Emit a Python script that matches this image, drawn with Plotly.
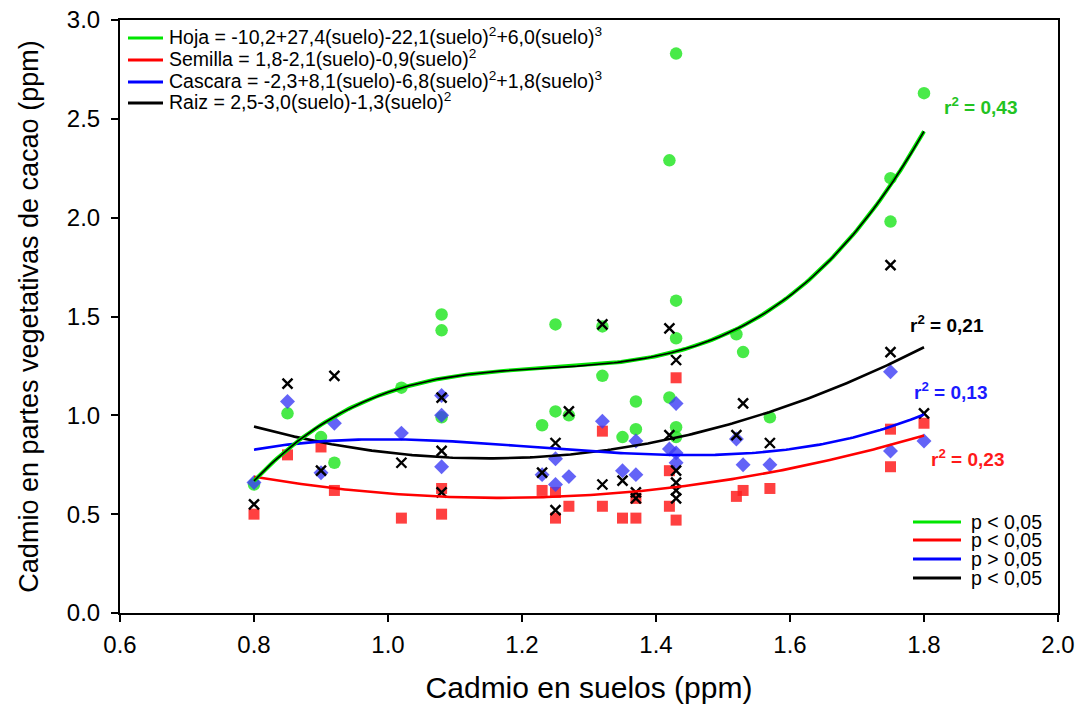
import numpy as np
import plotly.graph_objects as go

# Cadmium in soil (ppm) vs cadmium in cacao plant parts (ppm)
hoja_x = [0.80, 0.85, 0.90, 0.92, 1.02, 1.08, 1.08, 1.08, 1.23, 1.25, 1.25, 1.27, 1.32, 1.32, 1.35,
          1.37, 1.37, 1.42, 1.42, 1.43, 1.43, 1.43, 1.43, 1.43, 1.52, 1.53, 1.57, 1.75, 1.75, 1.80]
hoja_y = [0.65, 1.01, 0.89, 0.76, 1.14, 1.51, 1.43, 0.99, 0.95, 1.46, 1.02, 1.00, 1.45, 1.20, 0.89,
          1.07, 0.93, 2.29, 1.09, 2.83, 1.58, 1.39, 0.94, 0.89, 1.41, 1.32, 0.99, 2.20, 1.98, 2.63]

semilla_x = [0.80, 0.85, 0.90, 0.92, 1.02, 1.08, 1.08, 1.23, 1.25, 1.25, 1.27, 1.32, 1.32, 1.35,
             1.37, 1.37, 1.42, 1.42, 1.43, 1.43, 1.52, 1.53, 1.57, 1.75, 1.75, 1.80]
semilla_y = [0.50, 0.80, 0.84, 0.62, 0.48, 0.63, 0.50, 0.62, 0.61, 0.48, 0.54, 0.92, 0.54, 0.48,
             0.58, 0.48, 0.72, 0.54, 1.19, 0.47, 0.59, 0.62, 0.63, 0.93, 0.74, 0.96]

cascara_x = [0.80, 0.85, 0.90, 0.92, 1.02, 1.08, 1.08, 1.08, 1.23, 1.25, 1.25, 1.27, 1.32, 1.35,
             1.37, 1.37, 1.42, 1.43, 1.43, 1.43, 1.52, 1.53, 1.57, 1.75, 1.75, 1.80]
cascara_y = [0.66, 1.07, 0.71, 0.96, 0.91, 1.10, 1.00, 0.74, 0.70, 0.78, 0.65, 0.69, 0.97, 0.72,
             0.87, 0.70, 0.83, 1.06, 0.81, 0.76, 0.88, 0.75, 0.75, 1.22, 0.82, 0.87]

raiz_x = [0.80, 0.85, 0.90, 0.92, 1.02, 1.08, 1.08, 1.08, 1.23, 1.25, 1.25, 1.27, 1.32, 1.32, 1.35,
          1.37, 1.37, 1.42, 1.42, 1.43, 1.43, 1.43, 1.43, 1.43, 1.52, 1.53, 1.57, 1.75, 1.75, 1.80]
raiz_y = [0.55, 1.16, 0.72, 1.20, 0.76, 1.09, 0.82, 0.61, 0.71, 0.86, 0.52, 1.02, 1.46, 0.65, 0.67,
          0.61, 0.58, 1.44, 0.90, 1.28, 0.72, 0.66, 0.62, 0.58, 0.90, 1.06, 0.86, 1.76, 1.32, 1.01]

# Regression equations, r² and significance as reported
eq_labels = [
    "Hoja = -10,2+27,4(suelo)-22,1(suelo)<sup>2</sup>+6,0(suelo)<sup>3</sup>",
    "Semilla = 1,8-2,1(suelo)-0,9(suelo)<sup>2</sup>",
    "Cascara = -2,3+8,1(suelo)-6,8(suelo)<sup>2</sup>+1,8(suelo)<sup>3</sup>",
    "Raiz = 2,5-3,0(suelo)-1,3(suelo)<sup>2</sup>",
]
r2_labels = ["0,43", "0,23", "0,13", "0,21"]
p_labels = ["p < 0,05", "p < 0,05", "p > 0,05", "p < 0,05"]
fit_degree = [3, 2, 3, 2]

FONT = "Liberation Sans, Arial, sans-serif"
line_colors = ["#00e600", "#ff0000", "#0000ff", "#000000"]
marker_colors = ["rgba(40,230,40,0.85)", "rgba(255,30,30,0.85)", "rgba(60,60,245,0.8)", "#000000"]
r2_colors = ["#22c322", "#ff1a1a", "#1a1aff", "#000000"]

series_x = [hoja_x, semilla_x, cascara_x, raiz_x]
series_y = [hoja_y, semilla_y, cascara_y, raiz_y]

# plot-area geometry (pixels) used to place keys and labels in paper space
PL, PR, PT, PB = 120, 1058, 20, 613


def px2paper(px, py):
    return (px - PL) / (PR - PL), (PB - py) / (PB - PT)


fig = go.Figure()

# scatter points (drawn under the fitted curves)
symbols = ["circle", "square", "diamond", "x-thin"]
sizes = [12.5, 11, 11.5, 10]
for i in range(4):
    mk = dict(symbol=symbols[i], size=sizes[i], color=marker_colors[i], line=dict(width=0))
    if symbols[i] == "x-thin":
        mk["line"] = dict(width=2.4, color="#000000")
    fig.add_trace(go.Scatter(x=series_x[i], y=series_y[i], mode="markers", marker=mk,
                             showlegend=False, hoverinfo="x+y"))

# polynomial regression curves over the observed soil range
for i in [3, 2, 1, 0]:
    coef = np.polyfit(series_x[i], series_y[i], fit_degree[i])
    xs = np.linspace(min(series_x[i]), max(series_x[i]), 200)
    ys = np.polyval(coef, xs)
    fig.add_trace(go.Scatter(x=xs, y=ys, mode="lines", showlegend=False,
                             line=dict(color=line_colors[i], width=4 if i == 0 else 2.6),
                             hoverinfo="skip"))
    if i == 0:
        fig.add_trace(go.Scatter(x=xs, y=ys, mode="lines", showlegend=False,
                                 line=dict(color="#000000", width=1.6), hoverinfo="skip"))

# equation key (top left) and significance key (bottom right)
eq_rows = [38, 60, 82, 103]
p_rows = [522, 540, 559, 578]
for i in range(4):
    x0, y0 = px2paper(128, eq_rows[i])
    x1, _ = px2paper(163, eq_rows[i])
    fig.add_shape(type="line", xref="paper", yref="paper", x0=x0, x1=x1, y0=y0, y1=y0,
                  line=dict(color=line_colors[i], width=3))
    tx, ty = px2paper(167, eq_rows[i] - 2)
    fig.add_annotation(text=eq_labels[i], xref="paper", yref="paper", x=tx, y=ty,
                       xanchor="left", yanchor="middle", showarrow=False,
                       font=dict(family=FONT, size=19.5, color="#000000"))

    x0, y0 = px2paper(913, p_rows[i])
    x1, _ = px2paper(961, p_rows[i])
    fig.add_shape(type="line", xref="paper", yref="paper", x0=x0, x1=x1, y0=y0, y1=y0,
                  line=dict(color=line_colors[i], width=3))
    tx, ty = px2paper(969, p_rows[i])
    fig.add_annotation(text=p_labels[i], xref="paper", yref="paper", x=tx, y=ty,
                       xanchor="left", yanchor="middle", showarrow=False,
                       font=dict(family=FONT, size=19.5, color="#000000"))

# r² labels next to each curve end
r2_pos = [(942, 106), (929, 458), (912, 391), (908, 324)]
for i in range(4):
    ax, ay = px2paper(*r2_pos[i])
    fig.add_annotation(text="<b>r<sup>2</sup> = " + r2_labels[i] + "</b>",
                       xref="paper", yref="paper", x=ax, y=ay,
                       xanchor="left", yanchor="middle", showarrow=False,
                       font=dict(family=FONT, size=19, color=r2_colors[i]))

fig.update_layout(
    width=1082, height=704,
    margin=dict(l=PL, r=1082 - PR, t=PT, b=704 - PB, autoexpand=False),
    paper_bgcolor="white", plot_bgcolor="white",
    font=dict(family=FONT, color="#000000"),
    showlegend=False,
    xaxis=dict(range=[0.6, 2.0], dtick=0.2, tick0=0.6, tickformat=".1f",
               showgrid=False, zeroline=False, automargin=False,
               showline=True, linecolor="#000000", linewidth=2, mirror=True,
               ticks="outside", ticklen=7, tickwidth=2, tickcolor="#000000",
               ticklabelstandoff=2,
               tickfont=dict(family=FONT, size=24),
               title=dict(text="Cadmio en suelos (ppm)", font=dict(family=FONT, size=30), standoff=20)),
    yaxis=dict(range=[0, 3.0], dtick=0.5, tick0=0, tickformat=".1f",
               showgrid=False, zeroline=False, automargin=False,
               showline=True, linecolor="#000000", linewidth=2, mirror=True,
               ticks="outside", ticklen=7, tickwidth=2, tickcolor="#000000",
               ticklabelstandoff=6,
               tickfont=dict(family=FONT, size=24),
               title=dict(text="Cadmio en partes vegetativas de cacao (ppm)",
                          font=dict(family=FONT, size=27), standoff=20)),
)

fig.write_html("out.html")
